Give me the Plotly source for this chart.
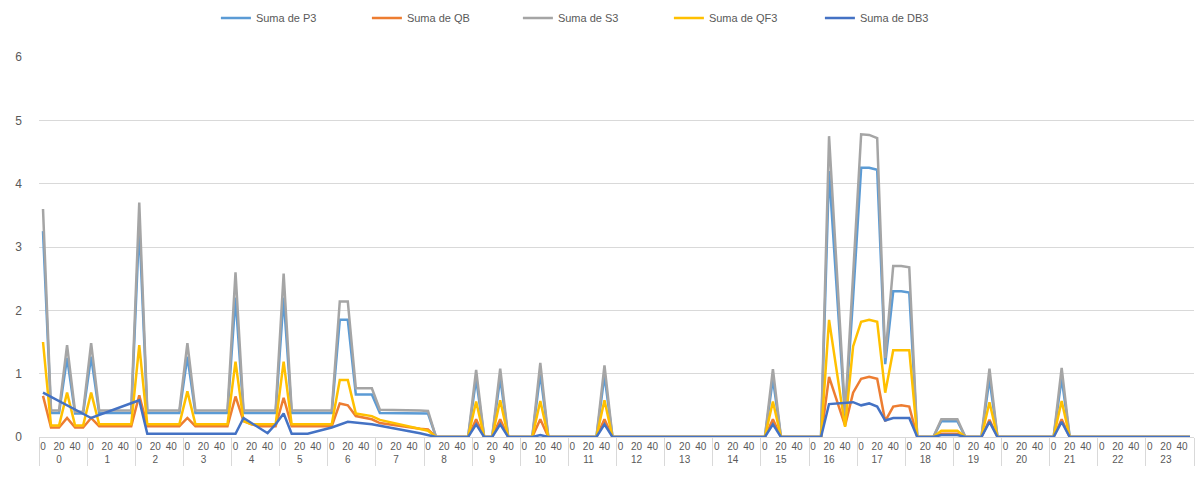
import plotly.graph_objects as go

N = None

hours = [str(h) for h in range(24)]
# minute categories within each hour (only 0 / 20 / 40 are labelled on the axis)
minutes = ["0", "10", "20", "30", "40", "50"]
minute_labels = ["0", "\u200b", "20", "\u200b\u200b", "40", "\u200b\u200b\u200b"]

suma_P3 = [
    3.25, 0.38, 0.38, 1.25, 0.37, 0.37,
    1.27, 0.38, 0.38, 0.38, 0.38, 0.38,
    3.35, 0.38, 0.38, 0.38, 0.38, 0.38,
    1.27, 0.38, 0.38, 0.38, 0.38, 0.38,
    2.20, 0.38, 0.38, 0.38, 0.38, 0.38,
    2.20, 0.38, 0.38, 0.38, 0.38, 0.38,
    0.38, 1.85, 1.85, 0.67, 0.67, 0.67,
    0.38, 0.38, 0.38, 0.38, 0.38, 0.38,
    0.37, 0, 0, 0, 0, 0,
    0.92, 0, 0, 0.93, 0, 0,
    0, 0, 1.00, 0, 0, 0,
    0, 0, 0, 0, 0.97, 0,
    0, 0, 0, 0, 0, 0,
    0, 0, 0, 0, 0, 0,
    0, 0, 0, 0, 0, 0,
    0, 0.92, 0, 0, 0, 0,
    0, 0, 4.20, 2.20, 0.30, 2.20,
    4.25, 4.25, 4.22, 1.15, 2.30, 2.30,
    2.28, 0, 0, 0, 0.25, 0.25,
    0.25, 0, 0, 0, 0.92, 0,
    0, 0, 0, 0, 0, 0,
    0, 0.93, 0, 0, 0, 0,
    0, 0, 0, 0, 0, 0,
    0, 0, 0, 0, 0, 0,
]

suma_QB = [
    0.65, 0.15, 0.15, 0.30, 0.15, 0.15,
    0.30, 0.17, 0.17, 0.17, 0.17, 0.17,
    0.66, 0.17, 0.17, 0.17, 0.17, 0.17,
    0.30, 0.17, 0.17, 0.17, 0.17, 0.17,
    0.64, 0.25, 0.20, 0.17, 0.17, 0.17,
    0.62, 0.17, 0.17, 0.17, 0.17, 0.17,
    0.17, 0.53, 0.50, 0.33, 0.30, 0.28,
    0.22, 0.20, 0.18, 0.16, 0.14, 0.13,
    0.12, 0, 0, 0, 0, 0,
    0.28, 0, 0, 0.28, 0, 0,
    0, 0, 0.28, 0, 0, 0,
    0, 0, 0, 0, 0.28, 0,
    0, 0, 0, 0, 0, 0,
    0, 0, 0, 0, 0, 0,
    0, 0, 0, 0, 0, 0,
    0, 0.28, 0, 0, 0, 0,
    0, 0, 0.95, 0.55, 0.18, 0.70,
    0.92, 0.95, 0.92, 0.25, 0.48, 0.50,
    0.48, 0, 0, 0, 0.05, 0.05,
    0.05, 0, 0, 0, 0.27, 0,
    0, 0, 0, 0, 0, 0,
    0, 0.28, 0, 0, 0, 0,
    0, 0, 0, 0, 0, 0,
    0, 0, 0, 0, 0, 0,
]

suma_S3 = [
    3.60, 0.42, 0.42, 1.45, 0.40, 0.40,
    1.48, 0.42, 0.42, 0.42, 0.42, 0.42,
    3.70, 0.42, 0.42, 0.42, 0.42, 0.42,
    1.48, 0.42, 0.42, 0.42, 0.42, 0.42,
    2.60, 0.42, 0.42, 0.42, 0.42, 0.42,
    2.58, 0.42, 0.42, 0.42, 0.42, 0.42,
    0.42, 2.14, 2.14, 0.77, 0.77, 0.77,
    0.43, 0.43, 0.43, 0.42, 0.42, 0.42,
    0.41, 0, 0, 0, 0, 0,
    1.06, 0, 0, 1.08, 0, 0,
    0, 0, 1.17, 0, 0, 0,
    0, 0, 0, 0, 1.13, 0,
    0, 0, 0, 0, 0, 0,
    0, 0, 0, 0, 0, 0,
    0, 0, 0, 0, 0, 0,
    0, 1.07, 0, 0, 0, 0,
    0, 0, 4.75, 2.55, 0.37, 2.56,
    4.78, 4.77, 4.72, 1.25, 2.70, 2.70,
    2.68, 0, 0, 0, 0.28, 0.28,
    0.28, 0, 0, 0, 1.08, 0,
    0, 0, 0, 0, 0, 0,
    0, 1.09, 0, 0, 0, 0,
    0, 0, 0, 0, 0, 0,
    0, 0, 0, 0, 0, 0,
]

suma_QF3 = [
    1.50, 0.18, 0.18, 0.70, 0.18, 0.18,
    0.70, 0.20, 0.20, 0.20, 0.20, 0.20,
    1.45, 0.20, 0.20, 0.20, 0.20, 0.20,
    0.72, 0.20, 0.20, 0.20, 0.20, 0.20,
    1.19, 0.25, 0.20, 0.20, 0.20, 0.20,
    1.19, 0.20, 0.20, 0.20, 0.20, 0.20,
    0.20, 0.90, 0.90, 0.37, 0.35, 0.33,
    0.27, 0.24, 0.21, 0.18, 0.15, 0.12,
    0.10, 0, 0, 0, 0, 0,
    0.56, 0, 0, 0.58, 0, 0,
    0, 0, 0.57, 0, 0, 0,
    0, 0, 0, 0, 0.58, 0,
    0, 0, 0, 0, 0, 0,
    0, 0, 0, 0, 0, 0,
    0, 0, 0, 0, 0, 0,
    0, 0.56, 0, 0, 0, 0,
    0, 0, 1.85, 1.00, 0.16, 1.43,
    1.82, 1.85, 1.82, 0.70, 1.37, 1.37,
    1.37, 0, 0, 0, 0.10, 0.10,
    0.10, 0, 0, 0, 0.55, 0,
    0, 0, 0, 0, 0, 0,
    0, 0.57, 0, 0, 0, 0,
    0, 0, 0, 0, 0, 0,
    0, 0, 0, 0, 0, 0,
]

suma_DB3 = [
    0.70, N, N, N, N, N,
    0.30, N, N, N, N, N,
    0.58, 0.05, 0.05, 0.05, 0.05, 0.05,
    0.05, 0.05, 0.05, 0.05, 0.05, 0.05,
    0.05, 0.30, 0.22, 0.14, 0.06, 0.20,
    0.37, 0.05, 0.05, 0.05, N, N,
    0.15, N, 0.24, N, N, 0.20,
    N, N, 0.13, N, N, 0.06,
    N, 0, 0, 0, 0, 0,
    0.20, 0, 0, 0.20, 0, 0,
    0, 0, 0.03, 0, 0, 0,
    0, 0, 0, 0, 0.20, 0,
    0, 0, 0, 0, 0, 0,
    0, 0, 0, 0, 0, 0,
    0, 0, 0, 0, 0, 0,
    0, 0.20, 0, 0, 0, 0,
    0, 0, 0.52, 0.53, 0.55, 0.55,
    0.50, 0.53, 0.48, 0.26, 0.30, 0.30,
    0.30, 0, 0, 0, 0.03, 0.03,
    0.03, 0, 0, 0, 0.24, 0,
    0, 0, 0, 0, 0, 0,
    0, 0.24, 0, 0, 0, 0,
    0, 0, 0, 0, 0, 0,
    0, 0, 0, 0, 0, 0,
]

series = [
    ("Suma de P3", suma_P3, "#5B9BD5"),
    ("Suma de QB", suma_QB, "#ED7D31"),
    ("Suma de S3", suma_S3, "#A5A5A5"),
    ("Suma de QF3", suma_QF3, "#FFC000"),
    ("Suma de DB3", suma_DB3, "#4472C4"),
]

outer = [h for h in hours for _ in minutes]
inner = [m for _ in hours for m in minute_labels]
n_points = len(outer)

fig = go.Figure()
for name, vals, col in series:
    fig.add_trace(go.Scatter(
        x=[outer, inner], y=vals, name=name, mode="lines",
        line=dict(color=col, width=2.5), connectgaps=True,
    ))

fig.update_layout(
    width=1196, height=487,
    margin=dict(l=39, r=2, t=57, b=50),
    paper_bgcolor="white", plot_bgcolor="white",
    font=dict(family="Liberation Sans, Arial, sans-serif", size=11, color="#595959"),
    legend=dict(
        orientation="h", x=0.48, xanchor="center",
        y=0.963, yref="container", yanchor="middle",
        font=dict(size=11, color="#595959"),
        entrywidth=106, entrywidthmode="pixels",
    ),
    showlegend=True,
)
fig.update_xaxes(
    type="multicategory",
    range=[-0.5, n_points - 0.5],
    showgrid=False, showline=True, linecolor="#D9D9D9", linewidth=1,
    showdividers=True, dividercolor="#D9D9D9", dividerwidth=1,
    tickfont=dict(size=10, color="#595959"),
    tickangle=0,
    ticks="",
    ticklabeloverflow="allow",
    automargin=False,
)
fig.update_yaxes(
    range=[0, 6], dtick=1, showgrid=True, gridcolor="#D9D9D9", gridwidth=1,
    zeroline=False, showline=False,
    tickfont=dict(size=12, color="#595959"),
    ticklabelstandoff=16,
)

fig.write_html(
    "out.html",
    config={"displayModeBar": False},
    post_script="document.body.style.margin='0';document.body.style.overflow='hidden';",
)
